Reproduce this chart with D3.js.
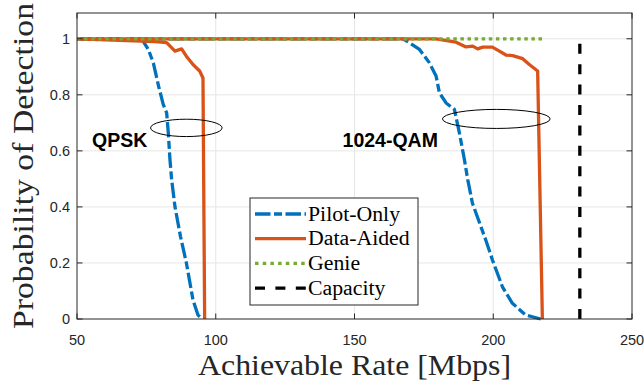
<!DOCTYPE html>
<html>
<head>
<meta charset="utf-8">
<script src="https://cdn.jsdelivr.net/npm/d3@7"></script>
<style>
    body { margin: 0; background: #fff; }
    svg { display: block; }
    .serif { font-family: "Liberation Serif", "Times New Roman", Times, "DejaVu Serif", serif; }
    .sans { font-family: "Liberation Sans", Arial, Helvetica, sans-serif; }
</style>
</head>
<body>
<svg id="chart" width="644" height="387"></svg>
<script>
// values (rate in Mbps, probability of detection)
const pilotQpskRate = [50, 73.3, 75.7, 77.5, 79.4, 81.1, 82.3, 82.9, 83.5, 84.1, 85.3, 87.3, 89.4, 91.8, 93.6, 95.2];
const pilotQpskProb = [1, 1, 0.962, 0.914, 0.831, 0.765, 0.736, 0.664, 0.569, 0.498, 0.401, 0.294, 0.201, 0.068, 0.014, 0];

const dataQpskRate = [50, 78.1, 82.3, 85.3, 87.7, 89.4, 91.8, 94.2, 95.4, 96.0];
const dataQpskProb = [1, 0.99, 0.986, 0.956, 0.964, 0.938, 0.908, 0.885, 0.86, 0];

const pilotQamRate = [50, 167.4, 169.8, 173.4, 177, 179.4, 180.6, 183, 186, 187.8, 189.6, 190.8, 192.5, 197.3, 199.7, 203.3, 206.9, 211.7, 214.1, 217.1];
const pilotQamProb = [1, 1, 0.986, 0.962, 0.914, 0.867, 0.807, 0.771, 0.748, 0.664, 0.569, 0.498, 0.413, 0.282, 0.211, 0.115, 0.056, 0.014, 0.008, 0];

const dataQamRate = [50, 179.4, 186.6, 190.2, 192.6, 194.4, 196.2, 199.7, 202.2, 204.6, 207, 210.6, 213, 216, 217.7];
const dataQamProb = [1, 1, 0.988, 0.971, 0.974, 0.964, 0.97, 0.97, 0.956, 0.942, 0.94, 0.929, 0.908, 0.885, 0];

const genieRate = [50, 218];
const genieProb = [1, 1];

const capacityRate = [231.2, 231.2];
const capacityProb = [0, 1];

const xTicks = [50, 100, 150, 200, 250];
const yTicks = [0, 0.2, 0.4, 0.6, 0.8, 1];

const legendLabels = ["Pilot-Only", "Data-Aided", "Genie", "Capacity"];

const blue = "#0072bd", orange = "#d95319", green = "#77ac30", black = "#000";
const axisColor = "#262626";

const svg = d3.select("#chart");

const x = d3.scaleLinear().domain([50, 250]).range([77, 632]);
const y = d3.scaleLinear().domain([0, 1.092]).range([319, 13]);

const zip = (xs, ys) => xs.map((v, i) => [v, ys[i]]);

// grid
svg.append("g")
    .selectAll("line")
    .data(xTicks.slice(1, -1))
    .join("line")
    .attr("x1", d => x(d)).attr("x2", d => x(d))
    .attr("y1", y.range()[0]).attr("y2", y.range()[1])
    .attr("stroke", "#e6e6e6").attr("stroke-width", 1);

svg.append("g")
    .selectAll("line")
    .data(yTicks.slice(1))
    .join("line")
    .attr("x1", x.range()[0]).attr("x2", x.range()[1])
    .attr("y1", d => y(d)).attr("y2", d => y(d))
    .attr("stroke", "#e6e6e6").attr("stroke-width", 1);

const line = d3.line().x(d => x(d[0])).y(d => y(d[1]));

const series = [
    { pts: zip(pilotQpskRate, pilotQpskProb), color: blue, dash: "15.5,3.5,8,3.5" },
    { pts: zip(pilotQamRate, pilotQamProb), color: blue, dash: "15.5,3.5,8,3.5" },
    { pts: zip(dataQpskRate, dataQpskProb), color: orange, dash: null },
    { pts: zip(dataQamRate, dataQamProb), color: orange, dash: null },
    { pts: zip(genieRate, genieProb), color: green, dash: "3.5,3.6" },
    { pts: zip(capacityRate, capacityProb), color: black, dash: "10,10.4" }
];

svg.append("g")
    .selectAll("path")
    .data(series)
    .join("path")
    .attr("d", d => line(d.pts))
    .attr("fill", "none")
    .attr("stroke", d => d.color)
    .attr("stroke-width", 3.3)
    .attr("stroke-dasharray", d => d.dash)
    .attr("stroke-linejoin", "round");

// axes box + inward ticks
const [x0, x1] = x.range();
const [y0, y1] = y.range();
const tickLen = 5.5;

svg.append("rect")
    .attr("x", x0).attr("y", y1)
    .attr("width", x1 - x0).attr("height", y0 - y1)
    .attr("fill", "none").attr("stroke", axisColor).attr("stroke-width", 1);

const ticks = svg.append("g").attr("stroke", axisColor).attr("stroke-width", 1);
xTicks.forEach(t => {
    ticks.append("line").attr("x1", x(t)).attr("x2", x(t)).attr("y1", y0).attr("y2", y0 - tickLen);
    ticks.append("line").attr("x1", x(t)).attr("x2", x(t)).attr("y1", y1).attr("y2", y1 + tickLen);
});
yTicks.forEach(t => {
    ticks.append("line").attr("x1", x0).attr("x2", x0 + tickLen).attr("y1", y(t)).attr("y2", y(t));
    ticks.append("line").attr("x1", x1).attr("x2", x1 - tickLen).attr("y1", y(t)).attr("y2", y(t));
});

svg.append("g")
    .selectAll("text")
    .data(xTicks)
    .join("text")
    .attr("class", "sans")
    .attr("x", d => x(d))
    .attr("y", 345)
    .attr("text-anchor", "middle")
    .attr("font-size", 14.5)
    .attr("fill", axisColor)
    .text(d => d);

svg.append("g")
    .selectAll("text")
    .data(yTicks)
    .join("text")
    .attr("class", "sans")
    .attr("x", 70)
    .attr("y", d => y(d) + 5)
    .attr("text-anchor", "end")
    .attr("font-size", 14.5)
    .attr("fill", axisColor)
    .text(d => d);

// axis labels (serif, stretched a bit toward Computer Modern widths)
svg.append("text")
    .attr("class", "serif")
    .attr("x", (x0 + x1) / 2)
    .attr("y", 375)
    .attr("text-anchor", "middle")
    .attr("font-size", 30)
    .attr("fill", axisColor)
    .attr("textLength", 313)
    .attr("lengthAdjust", "spacingAndGlyphs")
    .text("Achievable Rate [Mbps]");

svg.append("text")
    .attr("class", "serif")
    .attr("transform", `translate(33,${(y0 + y1) / 2}) rotate(-90)`)
    .attr("text-anchor", "middle")
    .attr("font-size", 30)
    .attr("fill", axisColor)
    .attr("textLength", 326)
    .attr("lengthAdjust", "spacingAndGlyphs")
    .text("Probability of Detection");

// annotations
const notes = [
    { label: "QPSK", rate: 55.4, prob: 0.614, cx: 89.4, cy: 0.682, rx: 12.9, ry: 0.031 },
    { label: "1024-QAM", rate: 145.7, prob: 0.614, cx: 201.1, cy: 0.714, rx: 19.4, ry: 0.034 }
];

svg.append("g")
    .selectAll("ellipse")
    .data(notes)
    .join("ellipse")
    .attr("cx", d => x(d.cx))
    .attr("cy", d => y(d.cy))
    .attr("rx", d => x(d.cx + d.rx) - x(d.cx))
    .attr("ry", d => y(d.cy - d.ry) - y(d.cy))
    .attr("fill", "none")
    .attr("stroke", black)
    .attr("stroke-width", 1);

svg.append("g")
    .selectAll("text")
    .data(notes)
    .join("text")
    .attr("class", "sans")
    .attr("x", d => x(d.rate))
    .attr("y", d => y(d.prob))
    .attr("font-weight", "bold")
    .attr("font-size", 19.5)
    .attr("fill", black)
    .text(d => d.label);

// legend
const legend = svg.append("g");
legend.append("rect")
    .attr("x", 250).attr("y", 198)
    .attr("width", 168).attr("height", 107)
    .attr("fill", "#fff")
    .attr("stroke", axisColor)
    .attr("stroke-width", 1);

const legendStyles = [
    { color: blue, dash: "15.5,3.5,8,3.5" },
    { color: orange, dash: null },
    { color: green, dash: "3.5,4.2" },
    { color: black, dash: "10,10.4" }
];

const rows = legend.selectAll("g")
    .data(legendLabels)
    .join("g")
    .attr("transform", (d, i) => `translate(0,${214 + i * 24.7})`);

rows.append("line")
    .attr("x1", 255).attr("x2", 306)
    .attr("stroke", (d, i) => legendStyles[i].color)
    .attr("stroke-width", 3.3)
    .attr("stroke-dasharray", (d, i) => legendStyles[i].dash);

rows.append("text")
    .attr("class", "serif")
    .attr("x", 308)
    .attr("y", 6.5)
    .attr("font-size", 20)
    .attr("fill", black)
    .text(d => d)
    .each(function () {
        const w = this.getComputedTextLength();
        d3.select(this)
            .attr("textLength", w * 1.09)
            .attr("lengthAdjust", "spacingAndGlyphs");
    });
</script>
</body>
</html>
